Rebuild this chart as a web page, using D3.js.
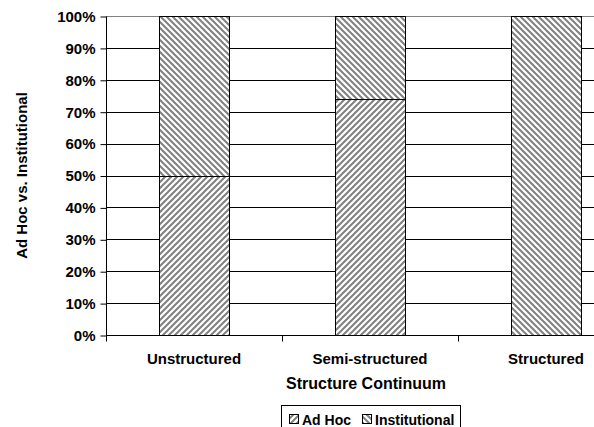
<!DOCTYPE html>
<html>
<head>
<meta charset="utf-8">
<script src="https://cdn.jsdelivr.net/npm/d3@7"></script>
<style>
  html, body { margin: 0; padding: 0; background: #fff; }
  svg { display: block; font-family: "Liberation Sans", Arial, sans-serif; font-weight: bold; }
</style>
</head>
<body>
<svg id="chart" width="594" height="427"></svg>
<script>
const categories = ["Unstructured", "Semi-structured", "Structured"];
const adHoc = [50, 74, 0];
const institutional = [50, 26, 100];
const yTicks = [0, 10, 20, 30, 40, 50, 60, 70, 80, 90, 100];
const seriesNames = ["Ad Hoc", "Institutional"];

(function () {
const svg = d3.select("#chart");
const pLeft = 106, pTop = 16, pBottom = 335, pRight = 634;

const x = d3.scaleBand().domain(categories).range([pLeft, pRight]).paddingInner(0.6).paddingOuter(0.3);
const y = d3.scaleLinear().domain([0, 100]).range([pBottom, pTop]);

const defs = svg.append("defs");
function hatch(id, forward) {
  const p = defs.append("pattern").attr("id", id).attr("patternUnits", "userSpaceOnUse")
    .attr("width", 6).attr("height", 6);
  p.append("rect").attr("width", 6).attr("height", 6).attr("fill", "#fff");
  const d = forward
    ? "M0,6 L6,0 M-3,3 L3,-3 M3,9 L9,3"
    : "M0,0 L6,6 M-3,3 L3,9 M3,-3 L9,3";
  p.append("path").attr("d", d).attr("stroke", "#808080").attr("stroke-width", 2);
}
hatch("hAd", true);
hatch("hInst", false);
const fills = ["url(#hAd)", "url(#hInst)"];

// gridlines
svg.append("g").selectAll("line").data(yTicks).enter().append("line")
  .attr("x1", pLeft).attr("x2", 594)
  .attr("y1", d => Math.round(y(d)) + 0.5).attr("y2", d => Math.round(y(d)) + 0.5)
  .attr("stroke", d => d === 100 ? "#808080" : "#000").attr("stroke-width", 1);

// bars
const rows = categories.map((c, i) => ({ cat: c, adHoc: adHoc[i], inst: institutional[i] }));
const stack = d3.stack().keys(["adHoc", "inst"])(rows);
stack.forEach((layer, li) => {
  svg.append("g").selectAll("rect").data(layer.filter(d => d[1] - d[0] > 0)).enter().append("rect")
    .attr("x", d => Math.round(x(d.data.cat)) + 0.5)
    .attr("width", Math.round(x.bandwidth()))
    .attr("y", d => Math.round(y(d[1])) + 0.5)
    .attr("height", d => Math.round(y(d[0])) - Math.round(y(d[1])))
    .attr("fill", fills[li]).attr("stroke", "#000").attr("stroke-width", 1);
});

// y axis
const yAxis = d3.axisLeft(y).tickValues(yTicks).tickFormat(d => d + "%").tickSize(6).tickPadding(5);
const ya = svg.append("g").attr("transform", `translate(${pLeft + 0.5},0.5)`).call(yAxis);
ya.select(".domain").attr("stroke", "#000").attr("d", `M0,${pTop}V${pBottom}`);
ya.selectAll(".tick line").attr("stroke", "#000");
ya.selectAll("text").attr("font-size", 15).attr("font-weight", "bold")
  .attr("font-family", "Liberation Sans, Arial, sans-serif").attr("fill", "#000");

// x axis
const xa = svg.append("g").attr("transform", `translate(0,${pBottom + 0.5})`);
xa.append("line").attr("x1", pLeft).attr("x2", 594).attr("y1", 0).attr("y2", 0).attr("stroke", "#000");
const bounds = d3.range(categories.length + 1).map(i => pLeft + i * x.step());
xa.selectAll("line.t").data(bounds).enter().append("line").attr("class", "t")
  .attr("x1", d => Math.round(d) + 0.5).attr("x2", d => Math.round(d) + 0.5)
  .attr("y1", 0).attr("y2", 6).attr("stroke", "#000");
xa.selectAll("text").data(categories).enter().append("text")
  .attr("x", d => x(d) + x.bandwidth() / 2).attr("y", 28)
  .attr("text-anchor", "middle").attr("font-size", 15).text(d => d);

// titles
svg.append("text").attr("x", 366).attr("y", 389).attr("text-anchor", "middle")
  .attr("font-size", 16).text("Structure Continuum");
svg.append("text").attr("transform", `translate(27,${(pTop + pBottom) / 2}) rotate(-90)`)
  .attr("text-anchor", "middle").attr("font-size", 15).text("Ad Hoc vs. Institutional");

// legend
const lg = svg.append("g");
lg.append("rect").attr("x", 281.5).attr("y", 405.5).attr("width", 179).attr("height", 30)
  .attr("fill", "#fff").attr("stroke", "#000");
const items = [{ name: seriesNames[0], fill: fills[0], x: 289 }, { name: seriesNames[1], fill: fills[1], x: 362 }];
items.forEach(it => {
  lg.append("rect").attr("x", it.x + 0.5).attr("y", 414.5).attr("width", 9).attr("height", 9)
    .attr("fill", it.fill).attr("stroke", "#000");
  lg.append("text").attr("x", it.x + 13).attr("y", 425).attr("font-size", 14).text(it.name);
});
})();
</script>
</body>
</html>
